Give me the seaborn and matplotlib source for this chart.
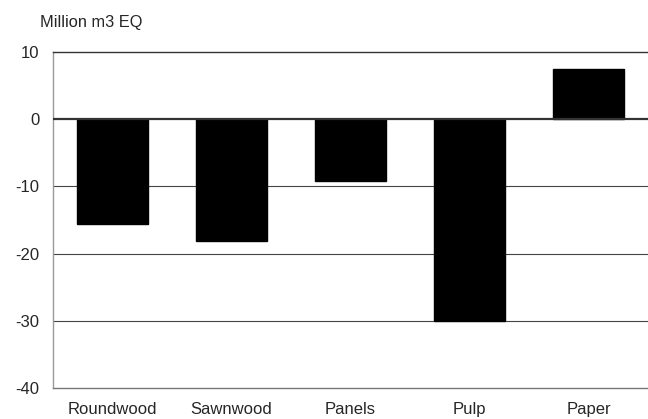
import matplotlib
matplotlib.use('Agg')
import matplotlib.pyplot as plt
import pandas as pd
import seaborn as sns

# Data
categories = ['Roundwood', 'Sawnwood', 'Panels', 'Pulp', 'Paper']
values = [-15.6, -18.2, -9.2, -30.0, 7.4]
yticks = [-40, -30, -20, -10, 0, 10]

df = pd.DataFrame({'product': categories, 'value': values})

sns.set_style('white')
plt.rcParams['font.family'] = ['Liberation Sans', 'DejaVu Sans']

fig = plt.figure(figsize=(6.48, 4.19), dpi=100)
ax = fig.add_axes([0.082, 0.074, 0.918, 0.802])

sns.barplot(data=df, x='product', y='value', color='black', width=0.6,
            edgecolor='black', saturation=1, ax=ax)

ax.set_ylim(-40, 10)
ax.set_xlim(-0.5, 4.5)
ax.set_yticks(yticks)
ax.set_yticklabels([str(t) for t in yticks], fontsize=12)
ax.tick_params(axis='x', labelsize=12, length=0, pad=10)
ax.tick_params(axis='y', length=0, pad=10)
for t in yticks:
    if t in (-30, -20, -10):
        ax.axhline(t, color='#444444', lw=0.8, zorder=0)
ax.axhline(0, color='#333333', lw=1.6, zorder=3)

ax.set_xlabel('')
ax.set_ylabel('')
ax.spines['right'].set_visible(False)
ax.spines['top'].set_color('#333333')
ax.spines['top'].set_linewidth(1.0)
ax.spines['left'].set_color('#999999')
ax.spines['bottom'].set_color('#777777')
ax.spines['left'].set_linewidth(1.0)
ax.spines['bottom'].set_linewidth(1.0)

fig.text(0.062, 0.947, 'Million m3 EQ', fontsize=11.8, ha='left', va='center')

fig.savefig('out.png', dpi=100)
